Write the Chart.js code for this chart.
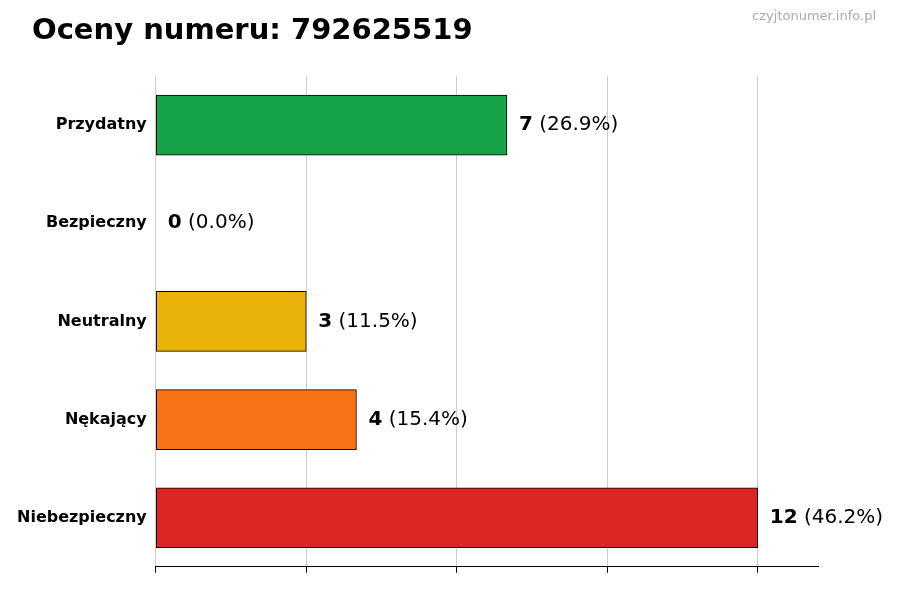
<!DOCTYPE html>
<html>
<head>
<meta charset="utf-8">
<script src="https://cdn.jsdelivr.net/npm/chart.js@4"></script>
<style>
  body { margin: 0; background: #fff; }
  #wrap { position: relative; width: 900px; height: 600px; }
</style>
</head>
<body>
<div id="wrap"><canvas id="chart" width="900" height="600"></canvas></div>
<script>
const categories = ['Przydatny', 'Bezpieczny', 'Neutralny', 'Nękający', 'Niebezpieczny'];
const counts = [7, 0, 3, 4, 12];
const colors = ['#16a34a', '#22c55e', '#eab308', '#f97316', '#dc2626'];
const xTicks = [0, 3, 6, 9, 12];

const total = counts.reduce((a, b) => a + b, 0);

// napisy przy słupkach: liczba pogrubiona + procent
const valueLabels = {
  id: 'valueLabels',
  afterDatasetsDraw(chart) {
    const ctx = chart.ctx;
    const meta = chart.getDatasetMeta(0);
    ctx.save();
    ctx.textBaseline = 'middle';
    meta.data.forEach((bar, i) => {
      const x = bar.x + 12;
      const y = bar.y;
      const num = String(counts[i]);
      ctx.font = 'bold 20px "DejaVu Sans"';
      ctx.fillStyle = '#000';
      ctx.fillText(num, x, y);
      const w = ctx.measureText(num).width;
      ctx.font = '20px "DejaVu Sans"';
      ctx.fillText(' (' + (counts[i] / total * 100).toFixed(1) + '%)', x + w, y);
    });
    ctx.restore();
  }
};

const header = {
  id: 'header',
  afterDraw(chart) {
    const ctx = chart.ctx;
    ctx.save();
    ctx.textBaseline = 'middle';
    ctx.fillStyle = '#000';
    ctx.font = 'bold 29px "DejaVu Sans"';
    ctx.fillText('Oceny numeru: 792625519', 32, 31);
    ctx.fillStyle = '#aaa';
    ctx.font = '13px "DejaVu Sans"';
    ctx.textAlign = 'right';
    ctx.fillText('czyjtonumer.info.pl', 876, 17);
    ctx.restore();
  }
};

new Chart(document.getElementById('chart'), {
  type: 'bar',
  data: {
    labels: categories,
    datasets: [{
      data: counts,
      backgroundColor: colors,
      borderColor: '#000',
      borderWidth: 1,
      borderSkipped: false,
      barThickness: 60
    }]
  },
  options: {
    indexAxis: 'y',
    responsive: false,
    animation: false,
    layout: { padding: { top: 76, right: 82, bottom: 20, left: 14 } },
    plugins: { legend: { display: false }, tooltip: { enabled: false } },
    scales: {
      x: {
        min: 0,
        max: 13.2,
        afterBuildTicks: axis => { axis.ticks = xTicks.map(v => ({ value: v })); },
        grid: { color: '#ccc', borderDash: [4, 4], tickLength: 6, tickColor: '#000', drawTicks: true },
        border: { display: true, color: '#000', dash: [] },
        ticks: { display: true, color: 'rgba(0,0,0,0)', font: { size: 1 } }
      },
      y: {
        grid: { display: false, tickLength: 6 },
        border: { display: false },
        ticks: { color: '#000', font: { family: 'DejaVu Sans', size: 16, weight: 'bold' } }
      }
    }
  },
  plugins: [valueLabels, header]
});
</script>
</body>
</html>
